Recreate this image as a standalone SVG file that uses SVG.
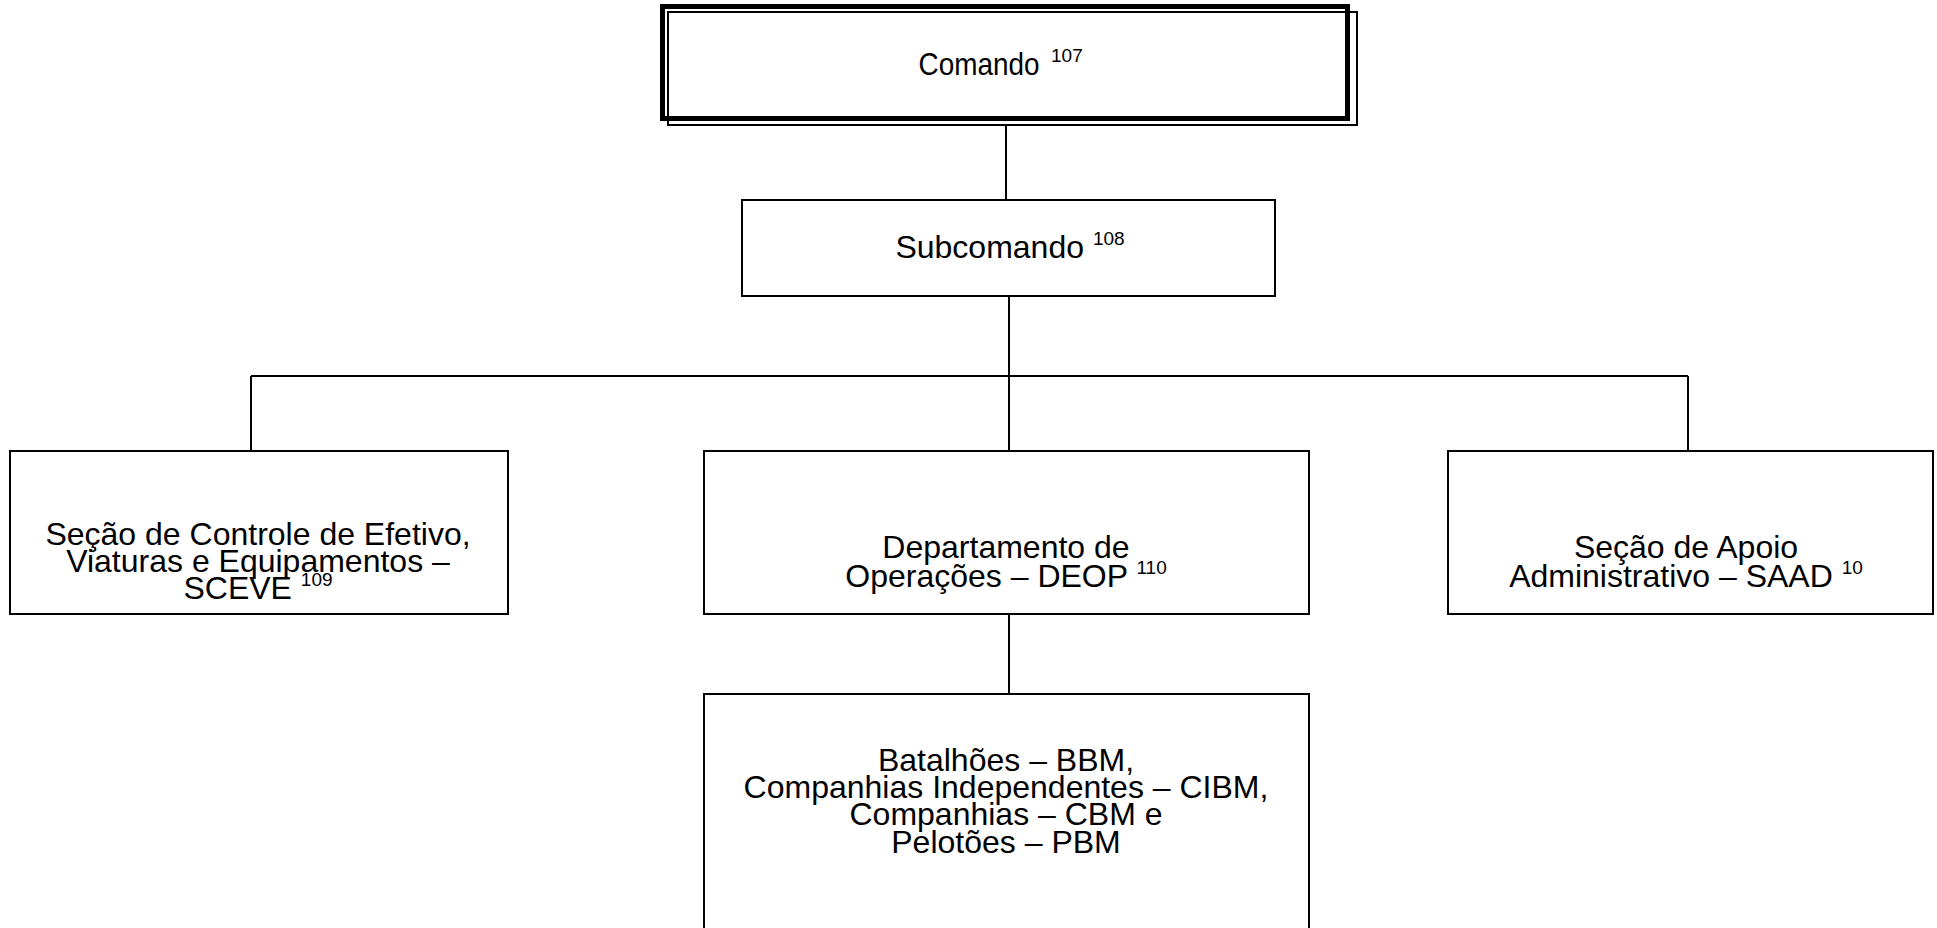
<svg xmlns="http://www.w3.org/2000/svg" width="1937" height="928" viewBox="0 0 1937 928">
  <style>
    .box { fill: #ffffff; stroke: #000000; stroke-width: 2; }
    .line { fill: none; stroke: #000000; stroke-width: 2; }
    .label { font-family: "Liberation Sans", Arial, sans-serif; font-size: 32px; fill: #000000; text-anchor: middle; }
    .sup { font-size: 19px; }
    .supl { font-family: "Liberation Sans", Arial, sans-serif; font-size: 19px; fill: #000000; }
  </style>
  <rect x="0" y="0" width="1937" height="928" fill="#ffffff"/>

  <g id="connectors">
    <line class="line" x1="1006" y1="126" x2="1006" y2="200"/>
    <line class="line" x1="1009" y1="296" x2="1009" y2="376"/>
    <line class="line" x1="251" y1="376" x2="1688" y2="376"/>
    <line class="line" x1="251" y1="376" x2="251" y2="451"/>
    <line class="line" x1="1009" y1="376" x2="1009" y2="451"/>
    <line class="line" x1="1688" y1="376" x2="1688" y2="451"/>
    <line class="line" x1="1009" y1="614" x2="1009" y2="694"/>
  </g>

  <g id="comando">
    <rect x="662.5" y="6.5" width="685" height="112" fill="#ffffff" stroke="#000000" stroke-width="5"/>
    <rect x="668" y="12" width="689" height="113" fill="none" stroke="#000000" stroke-width="2"/>
    <text class="label" x="979" y="75" textLength="121" lengthAdjust="spacingAndGlyphs">Comando</text>
    <text class="supl" x="1051" y="62">107</text>
  </g>

  <g id="subcomando">
    <rect class="box" x="742" y="200" width="533" height="96"/>
    <text class="label" x="1010" y="258">Subcomando <tspan class="sup" dy="-13">108</tspan></text>
  </g>

  <g id="sceve">
    <rect class="box" x="10" y="451" width="498" height="163"/>
    <text class="label" x="258" y="545">Seção de Controle de Efetivo,</text>
    <text class="label" x="258" y="572">Viaturas e Equipamentos –</text>
    <text class="label" x="258" y="599">SCEVE <tspan class="sup" dy="-13">109</tspan></text>
  </g>

  <g id="deop">
    <rect class="box" x="704" y="451" width="605" height="163"/>
    <text class="label" x="1006" y="558">Departamento de</text>
    <text class="label" x="1006" y="587">Operações – DEOP <tspan class="sup" dy="-13">110</tspan></text>
  </g>

  <g id="saad">
    <rect class="box" x="1448" y="451" width="485" height="163"/>
    <text class="label" x="1686" y="558">Seção de Apoio</text>
    <text class="label" x="1686" y="587">Administrativo – SAAD <tspan class="sup" dy="-13">10</tspan></text>
  </g>

  <g id="unidades">
    <rect class="box" x="704" y="694" width="605" height="250"/>
    <text class="label" x="1006" y="771">Batalhões – BBM,</text>
    <text class="label" x="1006" y="798">Companhias Independentes – CIBM,</text>
    <text class="label" x="1006" y="825">Companhias – CBM e</text>
    <text class="label" x="1006" y="853">Pelotões – PBM</text>
  </g>
</svg>
